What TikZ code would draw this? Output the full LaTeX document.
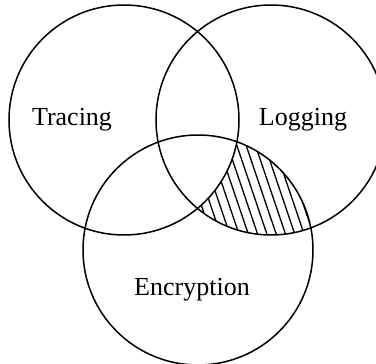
\documentclass[tikz,border=0pt]{standalone}
\usepackage{fontspec}
\setmainfont{Liberation Serif}
\usetikzlibrary{calc}

\begin{document}
\begin{tikzpicture}[x=0.5pt,y=0.5pt, set/.style={line width=0.75pt}, setlabel/.style={font=\fontsize{13}{15}\selectfont,inner sep=0pt}, hatch/.style={line width=0.65pt}]
  \useasboundingbox (0,0) rectangle (376,364);
  \coordinate (tc) at (124,244);
  \coordinate (lc) at (271,244);
  \coordinate (ec) at (198,114);
  % logging and encryption without tracing
  \begin{scope}
    \clip (lc) circle (115);
    \clip (ec) circle (115);
    \foreach \k in {-12,...,12}
      \draw[hatch] ($(236.7,219)+(\k*9.3,0)+(-40,118)$) -- ++(80,-236);
    \fill[white] (tc) circle (115);
  \end{scope}
  \draw[set] (tc) circle (115);
  \draw[set] (lc) circle (115);
  \draw[set] (ec) circle (115);
  \node[setlabel] (tracing) at (72,244) {Tracing};
  \node[setlabel] (logging) at (303,244) {Logging};
  \node[setlabel] (encryption) at (192,74) {Encryption};
\end{tikzpicture}
\end{document}
